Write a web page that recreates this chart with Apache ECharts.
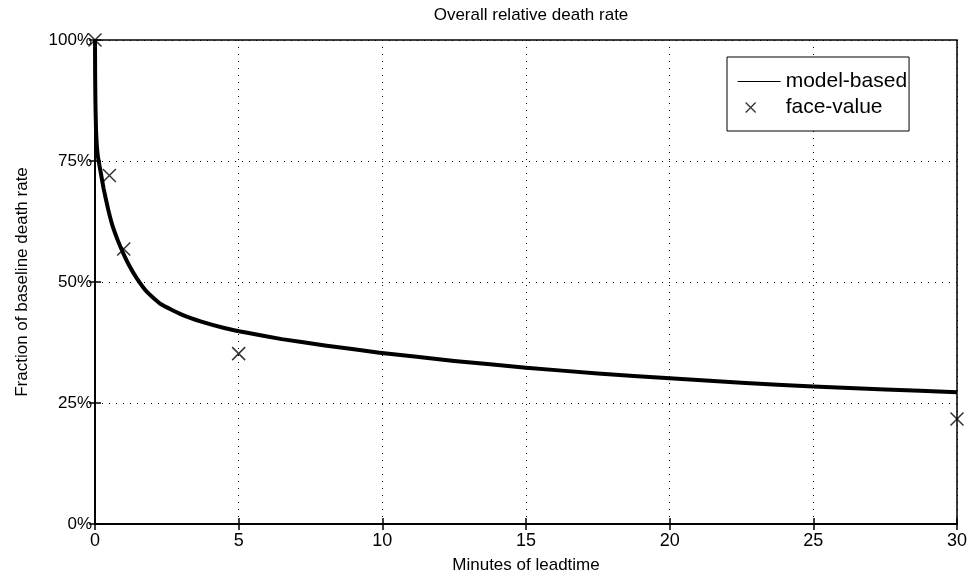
<!DOCTYPE html>
<html>
<head>
<meta charset="utf-8">
<script src="https://cdn.jsdelivr.net/npm/echarts@6/dist/echarts.min.js"></script>
<style>
  html, body { margin: 0; padding: 0; background: #fff; }
  #chart { width: 972px; height: 579px; }
</style>
</head>
<body>
<div id="chart"></div>
<script>
// model-based curve (minutes, % of baseline)
const curveT = [0, 0.005, 0.015, 0.035, 0.06, 0.1, 0.2, 0.3, 0.45, 0.6, 0.8, 1.0, 1.2, 1.45, 1.8, 2.3, 3, 3.7, 4.5, 5.3, 6.5, 8, 9.9, 12.5, 15, 17.5, 20, 22.5, 25, 27.5, 30];
const curveY = [100, 93, 87, 81.5, 78.5, 76, 72.6, 69.3, 65.2, 61.8, 58.5, 55.7, 53.3, 50.8, 48.0, 45.4, 43.3, 41.8, 40.5, 39.5, 38.2, 36.9, 35.4, 33.7, 32.3, 31.1, 30.1, 29.2, 28.4, 27.8, 27.2];
// face-value points
const markT = [0, 0.5, 1, 5, 30];
const markY = [100, 72, 56.8, 35.2, 21.7];
const xTicks = [0, 5, 10, 15, 20, 25, 30];
const yTicks = [0, 25, 50, 75, 100];

const font = 'Liberation Sans, Arial, Helvetica, sans-serif';
const crossPath = 'path://M0,0L10,10M10,0L0,10';

let myChart = echarts.init(document.getElementById('chart'));

const baseX = {
  type: 'value',
  min: xTicks[0],
  max: xTicks[xTicks.length - 1],
  interval: 5
};
const baseY = {
  type: 'value',
  min: yTicks[0],
  max: yTicks[yTicks.length - 1],
  interval: 25
};
const tick = { show: true, inside: true, length: 6, lineStyle: { color: '#000', width: 1.5 } };
const axLine = { show: true, lineStyle: { color: '#000', width: 1.5 } };
const dotted = { show: true, lineStyle: { color: '#000', type: [1, 6], width: 1 } };

myChart.setOption({
  animation: false,
  title: {
    text: 'Overall relative death rate',
    left: 526,
    textAlign: 'center',
    top: 2,
    textStyle: { fontFamily: font, fontSize: 17, fontWeight: 'normal', color: '#000' }
  },
  legend: {
    orient: 'vertical',
    left: 727,
    top: 57,
    backgroundColor: '#fff',
    borderColor: '#000',
    borderWidth: 1,
    padding: [14, 2, 13, 10],
    itemGap: 5,
    itemWidth: 43,
    itemHeight: 14,
    textStyle: { fontFamily: font, fontSize: 21, color: '#000' },
    data: [
      {
        name: 'model-based',
        icon: 'path://M0,0M43,14M0,6.4h43v1.2h-43z',
        itemStyle: { color: '#000', borderWidth: 0 }
      },
      {
        name: 'face-value',
        icon: 'path://M0,0M43,14M8,2L18,12M18,2L8,12',
        itemStyle: { color: 'transparent', borderColor: '#000', borderWidth: 1.3 }
      }
    ]
  },
  grid: {
    left: 95,
    right: 15,
    top: 40,
    bottom: 53,
    show: true,
    borderColor: '#000',
    borderWidth: 1.5
  },
  xAxis: [
    Object.assign({}, baseX, {
      position: 'bottom',
      name: 'Minutes of leadtime',
      nameLocation: 'middle',
      nameGap: 33,
      nameTextStyle: { fontFamily: font, fontSize: 17, color: '#000' },
      axisLine: axLine,
      axisTick: tick,
      axisLabel: { fontFamily: font, fontSize: 18, color: '#000', margin: 8 },
      splitLine: dotted
    }),
    Object.assign({}, baseX, {
      position: 'top',
      axisLine: axLine,
      axisTick: tick,
      axisLabel: { show: false },
      splitLine: { show: false }
    })
  ],
  yAxis: [
    Object.assign({}, baseY, {
      position: 'left',
      name: 'Fraction of baseline death rate',
      nameLocation: 'middle',
      nameGap: 64,
      nameTextStyle: { fontFamily: font, fontSize: 17, color: '#000' },
      axisLine: axLine,
      axisTick: tick,
      axisLabel: { fontFamily: font, fontSize: 17, color: '#000', margin: 3, formatter: '{value}%' },
      splitLine: dotted
    }),
    Object.assign({}, baseY, {
      position: 'right',
      axisLine: axLine,
      axisTick: tick,
      axisLabel: { show: false },
      splitLine: { show: false }
    })
  ],
  series: [
    {
      name: 'model-based',
      type: 'line',
      xAxisIndex: 0,
      yAxisIndex: 0,
      showSymbol: false,
      symbol: 'none',
      smooth: 0.15,
      color: '#000',
      lineStyle: { color: '#000', width: 4, join: 'round' },
      data: curveT.map((t, i) => [t, curveY[i]]),
      z: 3
    },
    {
      name: 'face-value',
      type: 'scatter',
      xAxisIndex: 0,
      yAxisIndex: 0,
      symbol: crossPath,
      symbolSize: 13,
      clip: false,
      itemStyle: { color: 'transparent', borderColor: '#000', borderWidth: 1.5 },
      data: markT.map((t, i) => [t, markY[i]]),
      z: 4
    }
  ]
});
</script>
</body>
</html>
